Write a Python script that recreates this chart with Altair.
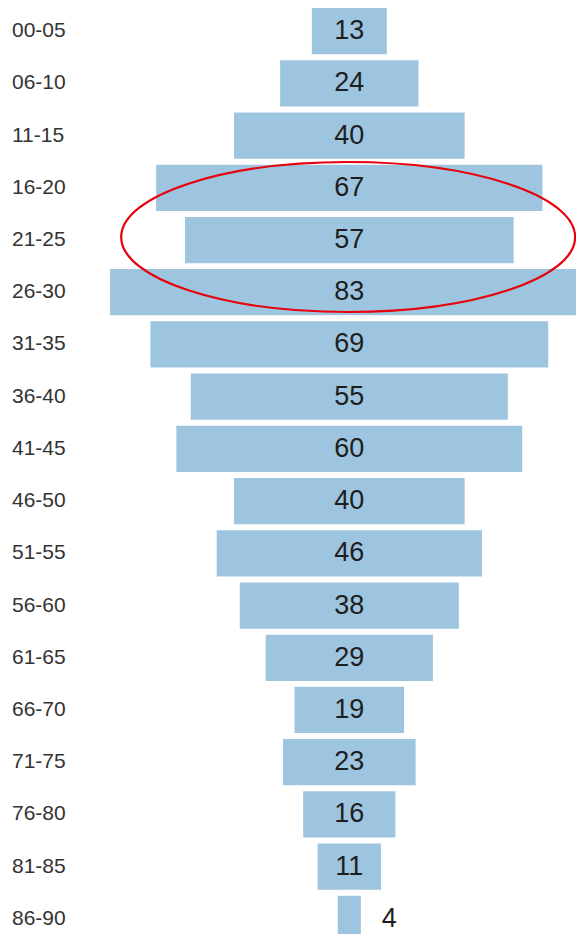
import altair as alt
import pandas as pd

age_groups = ["00-05", "06-10", "11-15", "16-20", "21-25", "26-30", "31-35",
              "36-40", "41-45", "46-50", "51-55", "56-60", "61-65", "66-70",
              "71-75", "76-80", "81-85", "86-90"]
counts = [13, 24, 40, 67, 57, 83, 69, 55, 60, 40, 46, 38, 29, 19, 23, 16, 11, 4]
highlight_row = ["21-25"]
highlight_center = [-0.2]

df = pd.DataFrame({"age": age_groups, "count": counts})
hl = pd.DataFrame({"age": highlight_row, "c": highlight_center})

BAR = "#9ec5df"
FONT = "Arial, Liberation Sans"

yscale = alt.Scale(paddingInner=0.114, paddingOuter=0, range=[0, 934])
xscale = alt.Scale(domain=[-59.2, 39.32], nice=False, zero=False)
yenc = alt.Y("age:N", sort=age_groups, axis=None, scale=yscale)

base = alt.Chart(df).transform_calculate(
    lo="-datum.count/2", hi="datum.count/2", mid="0"
)

bars = base.mark_bar(color=BAR, clip=True).encode(
    x=alt.X("lo:Q", scale=xscale, axis=None),
    x2="hi:Q",
    y=yenc,
)

inside = base.transform_filter("datum.count >= 8").mark_text(
    font=FONT, fontSize=27, color="#1e1e1e", baseline="middle", align="center"
).encode(x=alt.X("mid:Q", scale=xscale, axis=None), y=yenc, text="count:Q")

outside = base.transform_filter("datum.count < 8").mark_text(
    font=FONT, fontSize=27, color="#1e1e1e", baseline="middle", align="left", dx=21
).encode(x=alt.X("hi:Q", scale=xscale, axis=None), y=yenc, text="count:Q")

labels = base.mark_text(
    font=FONT, fontSize=21, color="#333333", baseline="middle", align="left"
).encode(x=alt.value(4), y=yenc, text="age:N")

ellipse_path = "M -1 0 A 1 0.3304 0 1 1 1 0 A 1 0.3304 0 1 1 -1 0 Z"
ellipse = alt.Chart(hl).mark_point(
    shape=ellipse_path, size=206116, filled=False, stroke="#e8000b",
    strokeWidth=2.2, opacity=1, yOffset=-3
).encode(
    x=alt.X("c:Q", scale=xscale, axis=None),
    y=yenc,
)

chart = alt.layer(bars, inside, outside, labels, ellipse).properties(
    width=568, height=926,
    autosize=alt.AutoSizeParams(type="none"),
    padding=0,
).configure_view(stroke=None)

chart.save("out.html", embed_options={"renderer": "svg", "actions": False})
